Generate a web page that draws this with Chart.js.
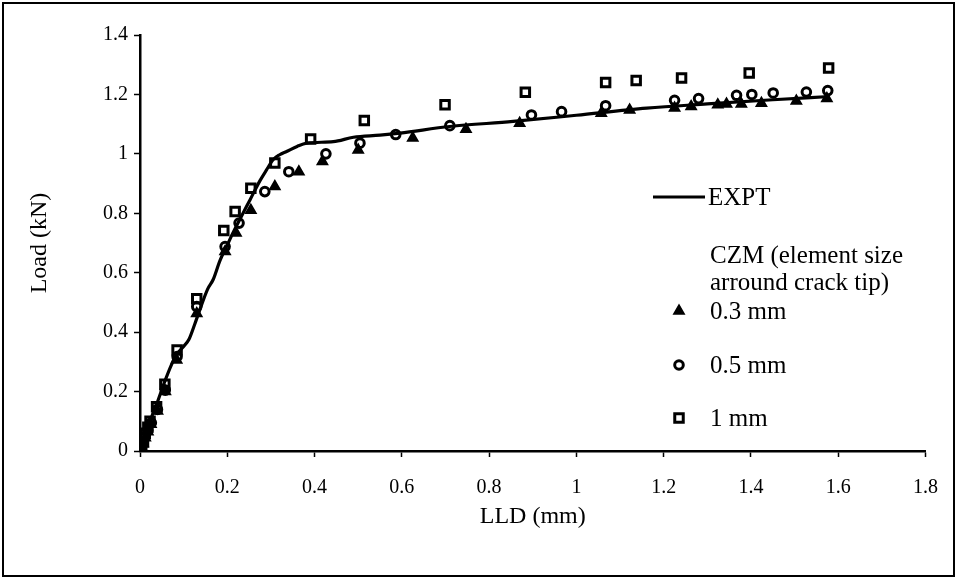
<!DOCTYPE html>
<html>
<head>
<meta charset="utf-8">
<script src="https://cdn.jsdelivr.net/npm/chart.js@4.4.1/dist/chart.umd.min.js"></script>
<style>
html,body{margin:0;padding:0;background:#fff;}
#wrap{position:relative;width:957px;height:579px;}
</style>
</head>
<body>
<div id="wrap"><canvas id="c" width="957" height="579"></canvas></div>
<script>
// ---- data ----
const xTickValues = [0, 0.2, 0.4, 0.6, 0.8, 1, 1.2, 1.4, 1.6, 1.8];
const xTickLabels = ['0', '0.2', '0.4', '0.6', '0.8', '1', '1.2', '1.4', '1.6', '1.8'];
const yTickValues = [0, 0.2, 0.4, 0.6, 0.8, 1, 1.2, 1.4];
const yTickLabels = ['0', '0.2', '0.4', '0.6', '0.8', '1', '1.2', '1.4'];

const exptLLD  = [0, 0.005, 0.012, 0.023, 0.04, 0.057, 0.072, 0.084, 0.1, 0.112, 0.125, 0.137, 0.155, 0.168, 0.183, 0.199, 0.213, 0.229, 0.252, 0.275, 0.29, 0.305, 0.32, 0.336, 0.36, 0.382, 0.443, 0.489, 0.55, 0.596, 0.71, 0.855, 1.0, 1.161, 1.3, 1.45, 1.58];
const exptLoad = [0, 0.02, 0.05, 0.1, 0.165, 0.235, 0.29, 0.325, 0.352, 0.375, 0.425, 0.475, 0.545, 0.578, 0.64, 0.69, 0.734, 0.78, 0.845, 0.91, 0.946, 0.98, 0.997, 1.008, 1.025, 1.036, 1.041, 1.056, 1.063, 1.07, 1.092, 1.109, 1.13, 1.154, 1.168, 1.182, 1.193];

const czm03LLD  = [0, 0.003, 0.007, 0.012, 0.018, 0.025, 0.04, 0.058, 0.084, 0.13, 0.195, 0.22, 0.254, 0.309, 0.364, 0.418, 0.5, 0.625, 0.747, 0.87, 1.057, 1.122, 1.225, 1.263, 1.324, 1.344, 1.378, 1.424, 1.504, 1.574];
const czm03Load = [0, 0.01, 0.025, 0.045, 0.065, 0.09, 0.135, 0.2, 0.306, 0.463, 0.671, 0.734, 0.81, 0.89, 0.94, 0.974, 1.013, 1.053, 1.083, 1.103, 1.137, 1.148, 1.154, 1.159, 1.165, 1.168, 1.168, 1.17, 1.178, 1.186];

const czm05LLD  = [0, 0.003, 0.007, 0.012, 0.018, 0.026, 0.04, 0.058, 0.085, 0.13, 0.195, 0.227, 0.286, 0.341, 0.426, 0.504, 0.586, 0.71, 0.897, 0.966, 1.067, 1.225, 1.28, 1.367, 1.402, 1.451, 1.527, 1.576];
const czm05Load = [0, 0.012, 0.028, 0.048, 0.07, 0.095, 0.14, 0.205, 0.318, 0.486, 0.688, 0.767, 0.873, 0.94, 1.0, 1.036, 1.065, 1.095, 1.131, 1.142, 1.162, 1.18, 1.186, 1.197, 1.2, 1.205, 1.208, 1.213];

const czm1LLD  = [0, 0.004, 0.008, 0.012, 0.018, 0.023, 0.038, 0.057, 0.085, 0.13, 0.192, 0.218, 0.254, 0.309, 0.391, 0.514, 0.699, 0.883, 1.067, 1.137, 1.241, 1.396, 1.578];
const czm1Load = [0, 0.015, 0.03, 0.06, 0.08, 0.1, 0.149, 0.225, 0.34, 0.512, 0.742, 0.806, 0.884, 0.969, 1.05, 1.112, 1.165, 1.207, 1.24, 1.247, 1.255, 1.272, 1.289];

const seriesNames = ['EXPT', '0.3 mm', '0.5 mm', '1 mm'];
const legendHeader = ['CZM (element size', 'arround crack tip)'];

const toPts = (xs, ys) => xs.map((x, i) => ({x: x, y: ys[i]}));

const FONT = "'Liberation Serif', 'Times New Roman', serif";

// legend + frame plugin
const legendPlugin = {
  id: 'customLegend',
  afterDraw(chart) {
    const ctx = chart.ctx;
    ctx.save();
    // outer frame
    ctx.strokeStyle = '#000';
    ctx.lineWidth = 2;
    ctx.strokeRect(3, 3, 951, 573);

    ctx.fillStyle = '#000';
    ctx.font = '25px ' + FONT;
    ctx.textBaseline = 'middle';
    ctx.textAlign = 'left';
    // EXPT
    ctx.lineWidth = 3;
    ctx.beginPath();
    ctx.moveTo(653, 197);
    ctx.lineTo(705, 197);
    ctx.stroke();
    ctx.fillText(seriesNames[0], 708, 198);
    // header
    ctx.fillText(legendHeader[0], 710, 256);
    ctx.fillText(legendHeader[1], 710, 283);
    // markers
    const rows = [
      {ds: 1, y: 311},
      {ds: 2, y: 365},
      {ds: 3, y: 418}
    ];
    rows.forEach(r => {
      const d = chart.data.datasets[r.ds];
      const opts = {
        pointStyle: d.pointStyle,
        radius: d.pointRadius,
        borderWidth: d.borderWidth,
        rotation: 0
      };
      ctx.strokeStyle = d.borderColor;
      ctx.fillStyle = d.backgroundColor;
      ctx.lineWidth = d.borderWidth;
      Chart.helpers.drawPoint(ctx, opts, 679, r.y);
      ctx.fillStyle = '#000';
      ctx.fillText(seriesNames[r.ds], 710, r.y + 1);
    });
    ctx.restore();
  }
};

new Chart(document.getElementById('c'), {
  type: 'scatter',
  data: {
    datasets: [
      {
        label: seriesNames[0],
        data: toPts(exptLLD, exptLoad),
        showLine: true,
        borderColor: '#000',
        backgroundColor: '#000',
        borderWidth: 3.2,
        pointRadius: 0,
        cubicInterpolationMode: 'monotone',
        fill: false
      },
      {
        label: seriesNames[1],
        data: toPts(czm03LLD, czm03Load),
        pointStyle: 'triangle',
        pointRadius: 5.5,
        borderColor: '#000',
        backgroundColor: '#000',
        borderWidth: 2
      },
      {
        label: seriesNames[2],
        data: toPts(czm05LLD, czm05Load),
        pointStyle: 'circle',
        pointRadius: 4.3,
        borderColor: '#000',
        backgroundColor: 'rgba(0,0,0,0)',
        borderWidth: 3
      },
      {
        label: seriesNames[3],
        data: toPts(czm1LLD, czm1Load),
        pointStyle: 'rect',
        pointRadius: 6,
        borderColor: '#000',
        backgroundColor: 'rgba(0,0,0,0)',
        borderWidth: 3
      }
    ]
  },
  options: {
    responsive: false,
    devicePixelRatio: 1,
    animation: false,
    layout: {padding: {top: 35, right: 29, left: 0, bottom: 0}},
    plugins: {legend: {display: false}, tooltip: {enabled: false}},
    scales: {
      x: {
        type: 'linear',
        min: 0, max: 1.8,
        afterBuildTicks: s => { s.ticks = xTickValues.map(v => ({value: v})); },
        afterFit: s => { s.height = 128; },
        ticks: {
          color: '#000',
          font: {family: FONT, size: 20},
          padding: 19,
          maxRotation: 0,
          autoSkip: false,
          callback: (v, i) => xTickLabels[i]
        },
        grid: {display: true, drawOnChartArea: false, drawTicks: true, tickLength: 6, tickColor: '#000', tickWidth: 1.5},
        border: {display: true, color: '#000', width: 2.5},
        title: {display: true, text: 'LLD (mm)', color: '#000', font: {family: FONT, size: 24}, padding: {top: 0, bottom: 47.6}}
      },
      y: {
        type: 'linear',
        min: 0, max: 1.4,
        afterBuildTicks: s => { s.ticks = yTickValues.map(v => ({value: v})); },
        afterFit: s => { s.width = 140; },
        ticks: {
          color: '#000',
          font: {family: FONT, size: 20},
          padding: 6,
          autoSkip: false,
          callback: (v, i) => yTickLabels[i]
        },
        grid: {display: true, drawOnChartArea: false, drawTicks: true, tickLength: 6, tickColor: '#000', tickWidth: 1.5},
        border: {display: true, color: '#000', width: 2.5},
        title: {display: true, text: 'Load (kN)', color: '#000', font: {family: FONT, size: 24}, padding: {top: 25.6, bottom: 0}}
      }
    }
  },
  plugins: [legendPlugin]
});
</script>
</body>
</html>
